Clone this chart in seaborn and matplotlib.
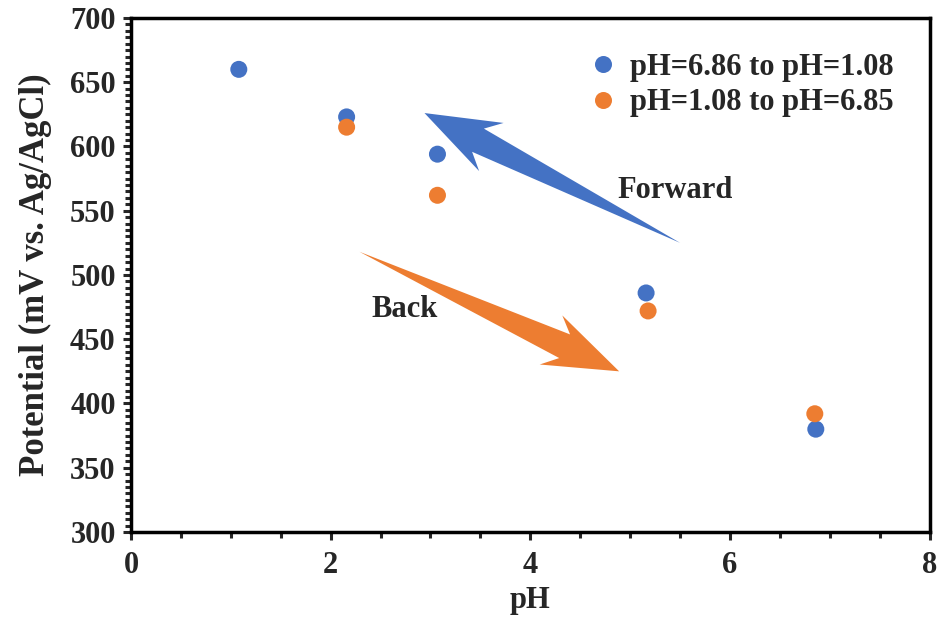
import numpy as np
import pandas as pd
import matplotlib.pyplot as plt
import seaborn as sns
from matplotlib.patches import Polygon
from matplotlib.ticker import MultipleLocator

# values
ph_fwd = [1.08, 2.16, 3.07, 5.16, 6.86]
pot_fwd = [660, 623, 594, 486, 380]
ph_back = [2.16, 3.07, 5.18, 6.85]
pot_back = [615, 562, 472, 392]
labels = ['pH=6.86 to pH=1.08', 'pH=1.08 to pH=6.85']
colors = ['#4472C4', '#ED7D31']

df = pd.DataFrame({
    'pH': ph_fwd + ph_back,
    'Potential': pot_fwd + pot_back,
    'Run': [labels[0]] * len(ph_fwd) + [labels[1]] * len(ph_back),
})

sns.set_style('white')
plt.rcParams['font.family'] = ['Liberation Serif', 'DejaVu Serif']
plt.rcParams['font.weight'] = 'bold'

fig = plt.figure(figsize=(9.39, 6.3), dpi=100)
ax = fig.add_axes([0.1395, 0.1556, 0.8505, 0.8159])

sns.scatterplot(data=df, x='pH', y='Potential', hue='Run', palette=colors,
                s=150, edgecolor='none', ax=ax)

ax.set_xlim(0, 8)
ax.set_ylim(300, 700)
ax.xaxis.set_major_locator(MultipleLocator(2))
ax.xaxis.set_minor_locator(MultipleLocator(0.5))
ax.yaxis.set_major_locator(MultipleLocator(50))
ax.yaxis.set_minor_locator(MultipleLocator(5))
ax.tick_params(which='major', direction='out', length=6, width=2.2, labelsize=22, pad=5)
ax.tick_params(which='minor', direction='out', length=4, width=2.2)
ax.tick_params(axis='x', which='both', bottom=True)
ax.tick_params(axis='y', which='both', left=True)
ax.tick_params(axis='x', pad=8)
for t in ax.get_xticklabels() + ax.get_yticklabels():
    t.set_fontweight('bold')
for sp in ax.spines.values():
    sp.set_color('black')
    sp.set_linewidth(2.5)

ax.set_xlabel('pH', fontsize=22, fontweight='bold', labelpad=4)
ax.set_ylabel('Potential (mV vs. Ag/AgCl)', fontsize=25, fontweight='bold', labelpad=13)

leg = ax.legend(loc='upper right', bbox_to_anchor=(0.99, 0.985), frameon=False,
                fontsize=22, handletextpad=-0.1, labelspacing=0.2, markerscale=1.0)
for t in leg.get_texts():
    t.set_fontweight('bold')


def tapered_arrow(ax, tail, tip, color, head_len=75, head_half=27, shaft_half=13):
    # build a pointed-tail arrow in pixel space, then map back to data
    t = ax.transData.transform(tail)
    p = ax.transData.transform(tip)
    d = (p - t) / np.linalg.norm(p - t)
    n = np.array([-d[1], d[0]])
    base = p - d * head_len
    join = p - d * head_len * 0.8
    pts = [t,
           join + n * shaft_half,
           base + n * head_half,
           p,
           base - n * head_half,
           join - n * shaft_half]
    pts = ax.transData.inverted().transform(np.array(pts))
    ax.add_patch(Polygon(pts, closed=True, facecolor=color, edgecolor='none', zorder=1))


tapered_arrow(ax, (5.50, 525), (2.94, 626), colors[0])
tapered_arrow(ax, (2.29, 518), (4.89, 425), colors[1])
ax.text(5.45, 566, 'Forward', fontsize=22, fontweight='bold', ha='center', va='center')
ax.text(2.74, 473, 'Back', fontsize=22, fontweight='bold', ha='center', va='center')

fig.savefig('out.png', dpi=100)
